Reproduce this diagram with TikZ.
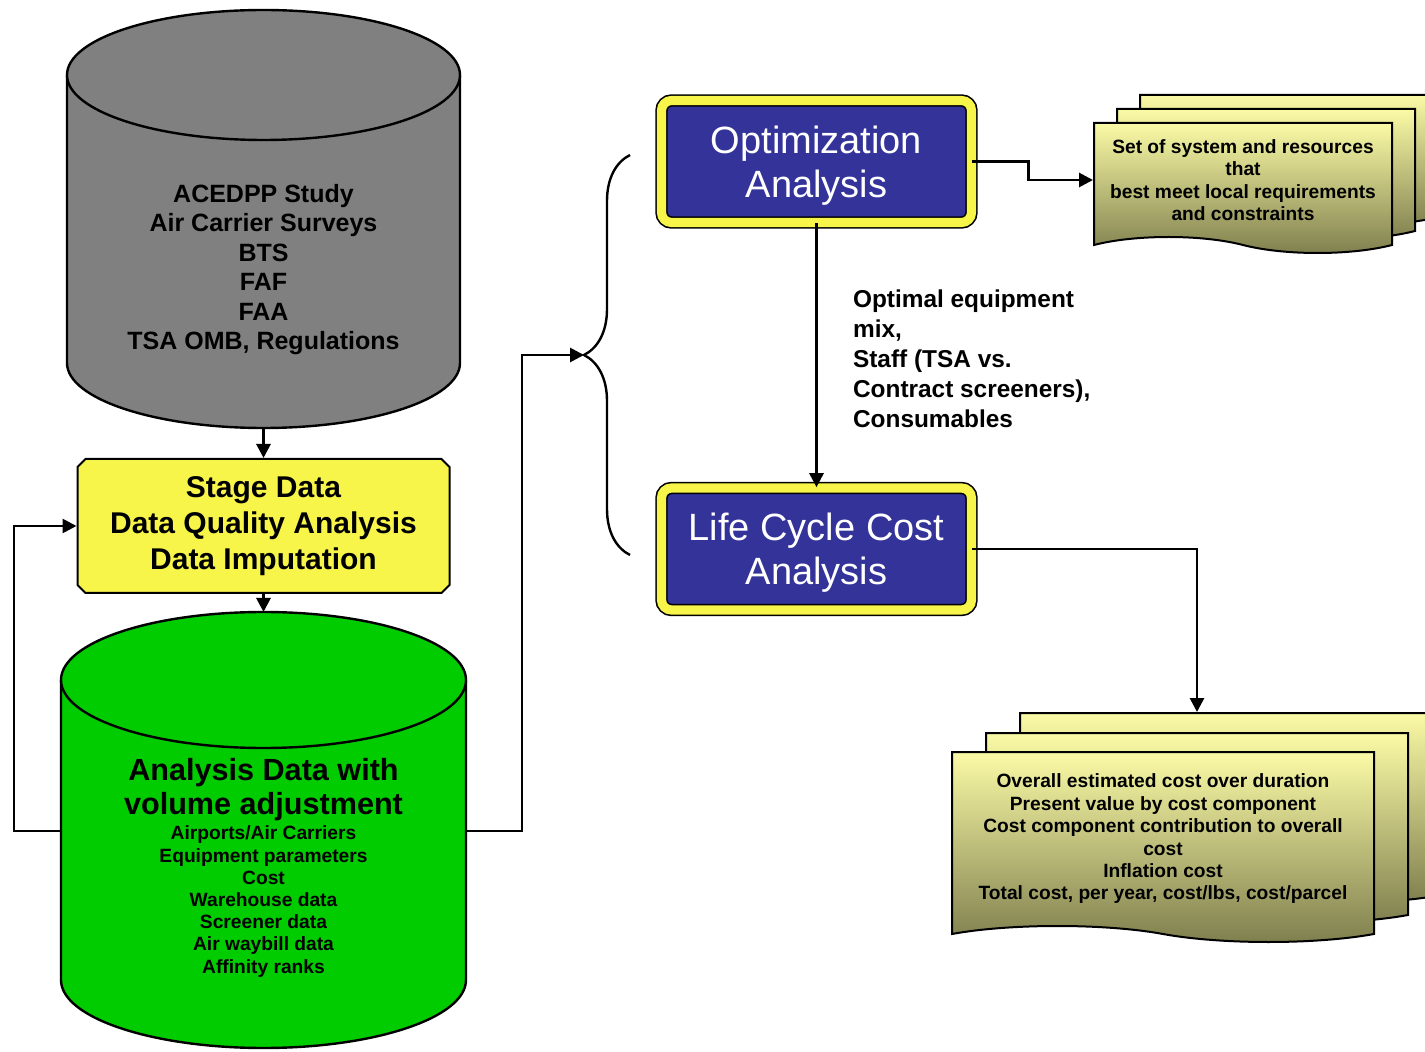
\documentclass[tikz,border=0pt]{standalone}
\usepackage{fontspec}
\setmainfont{Liberation Sans}
\usetikzlibrary{arrows.meta,positioning,shapes.misc,shapes.symbols,decorations.pathreplacing}
\definecolor{DbGray}{HTML}{808080}
\definecolor{DbGreen}{HTML}{00CC00}
\definecolor{StageYellow}{HTML}{F7F44A}
\definecolor{AnaBlue}{HTML}{333399}
\definecolor{SheetTop}{HTML}{FAFAA6}
\definecolor{SheetBot}{HTML}{7E7E4E}

\begin{document}
\begin{tikzpicture}[x=0.5pt,y=0.5pt,
    db/.style={draw=black,line width=1.2pt},
    stagebox/.style={chamfered rectangle,chamfered rectangle xsep=2pt,chamfered rectangle ysep=2pt,draw,line width=1pt,fill=StageYellow,minimum width=186pt,minimum height=67pt,align=center,font=\fontsize{15}{18}\selectfont\bfseries},
    ana/.style={draw,line width=.8pt,double=StageYellow,double distance=4.6pt,rounded corners=5pt,fill=AnaBlue,text=white,minimum width=155pt,minimum height=61pt,text depth=0pt,align=center,font=\fontsize{19}{22}\selectfont},
    sheet/.style={tape,tape bend top=none,tape bend bottom=out and in,tape bend height=8pt,draw,line width=1pt,top color=SheetTop,bottom color=SheetBot,align=center,font=\fontsize{9.6}{11.2}\selectfont\bfseries},
    arr/.style={-{Triangle[length=7pt,width=7pt]},line width=1.4pt}]
    \fill[white] (0,0) rectangle (1425,1051);
    \useasboundingbox (0,0) rectangle (1425,1051);

    % source data store
    \fill[DbGray] (67,976) -- (67,688) arc[start angle=180,end angle=360,x radius=98.25pt,y radius=32.5pt] -- (460,976) -- cycle;
    \draw[db] (67,976) -- (67,688) arc[start angle=180,end angle=360,x radius=98.25pt,y radius=32.5pt] -- (460,976);
    \draw[db,fill=DbGray] (263.5,976) ellipse [x radius=98.25pt,y radius=32.5pt];
    \node[font=\fontsize{12.5}{14.75}\selectfont\bfseries,align=center] (srcdb) at (263.5,781.5) {ACEDPP Study\\Air Carrier Surveys\\BTS\\FAF\\FAA\\TSA OMB, Regulations};
    \coordinate (srcdb-s) at (263.5,623);

    \node[stagebox] (stage) at (263.5,525) {Stage Data\\Data Quality Analysis\\Data Imputation};

    % analysis data store
    \fill[DbGreen] (61,371) -- (61,71) arc[start angle=180,end angle=360,x radius=101.25pt,y radius=34pt] -- (466,371) -- cycle;
    \draw[db] (61,371) -- (61,71) arc[start angle=180,end angle=360,x radius=101.25pt,y radius=34pt] -- (466,371);
    \draw[db,fill=DbGreen] (263.5,371) ellipse [x radius=101.25pt,y radius=34pt];
    \node[font=\fontsize{15.3}{17}\selectfont\bfseries,align=center] (andb) at (263.5,261) {Analysis Data with\\volume adjustment};
    \node[font=\fontsize{9.6}{11.1}\selectfont\bfseries,align=center] (andb-list) at (263.5,149.5) {Airports/Air Carriers\\Equipment parameters\\Cost\\Warehouse data\\Screener data\\Air waybill data\\Affinity ranks};
    \coordinate (andb-n) at (263.5,439);
    \coordinate (andb-w) at (61,220);
    \coordinate (andb-e) at (466,220);

    % brace
    \draw[line width=1.2pt,decorate,decoration={brace,amplitude=23pt}] (630,496) -- (630,896);
    \coordinate (brace-tip) at (584,696);

    \node[ana] (opt) at (816.5,889.5) {Optimization\\Analysis};
    \node[ana] (lcc) at (816.5,502) {Life Cycle Cost\\Analysis};
    \node[font=\fontsize{12.2}{15}\selectfont\bfseries,align=left,anchor=west] (mixlbl) at (846,692.5) {Optimal equipment\\mix,\\Staff (TSA vs.\\Contract screeners),\\Consumables};

    % output sheets
    \node[sheet,minimum width=149pt,minimum height=65pt] (res3) at (1289,899) {};
    \node[sheet,minimum width=149pt,minimum height=65pt] (res2) at (1266,885) {};
    \node[sheet,minimum width=149pt,minimum height=65pt] (res1) at (1243,871) {Set of system and resources\\that\\best meet local requirements\\and constraints};
    \node[sheet,minimum width=211pt,minimum height=95pt] (cost3) at (1231,251) {};
    \node[sheet,minimum width=211pt,minimum height=95pt] (cost2) at (1197,231) {};
    \node[sheet,minimum width=211pt,minimum height=95pt] (cost1) at (1163,212) {Overall estimated cost over duration\\Present value by cost component\\Cost component contribution to overall\\cost\\Inflation cost\\Total cost, per year, cost/lbs, cost/parcel};

    \draw[arr] (srcdb-s) -- (srcdb-s |- stage.north);
    \draw[arr] (stage.south) -- (andb-n);
    \draw[arr] (andb-w) -- ++(-23.5pt,0) |- (stage.west);
    \draw[arr] (andb-e) -- ++(28pt,0) |- (brace-tip);
    \draw[arr] (opt) -- (lcc);
    \draw[arr] (opt.east) -- ++(28pt,0) |- (res1.west);
    \draw[arr] (lcc.east) -| ([xshift=-17pt]cost3.north);
\end{tikzpicture}
\end{document}
